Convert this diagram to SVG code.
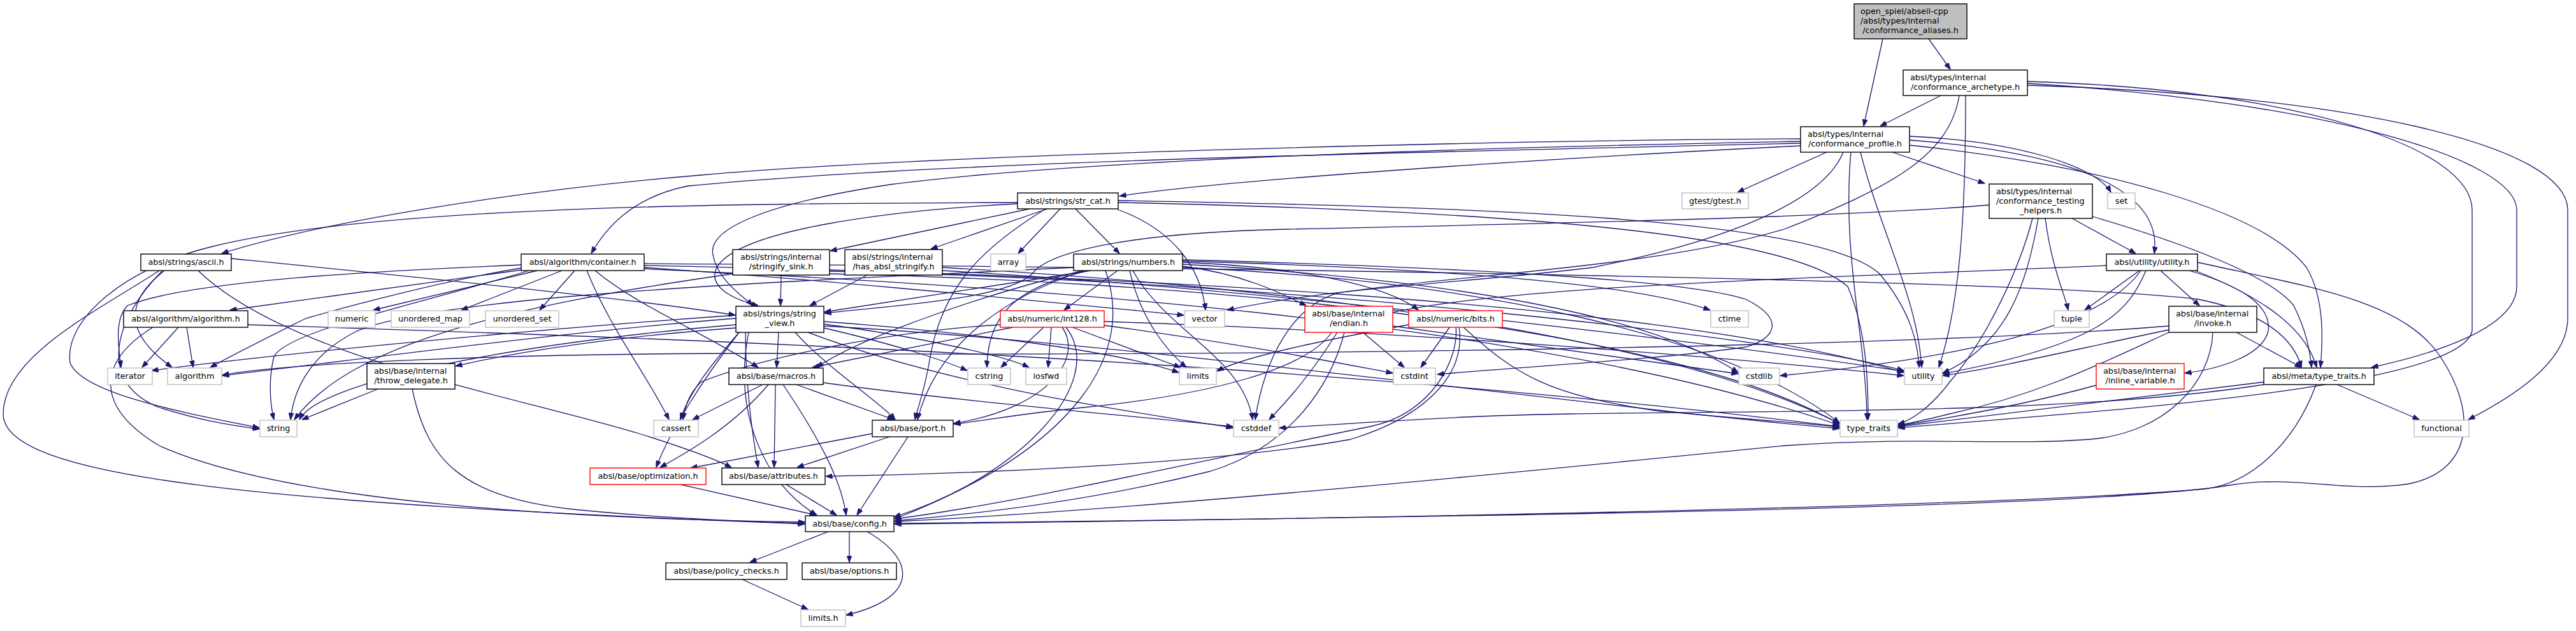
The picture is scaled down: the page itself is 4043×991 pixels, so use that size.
<svg xmlns="http://www.w3.org/2000/svg" width="4043" height="991" viewBox="0 0 4043 991">
<style>
.n rect{fill:#fff;stroke:#000;stroke-width:1.4}
.g rect{stroke:#bfbfbf}
.r rect{stroke:#ff0000}
.rt rect{fill:#bfbfbf}
text{font-family:"DejaVu Sans",sans-serif;font-size:12.8px;fill:#000}
.c{text-anchor:middle}
#edges path{fill:none;stroke:#191970;stroke-width:1.3;marker-end:url(#a)}
</style>
<defs><marker id="a" markerWidth="11" markerHeight="8" refX="10.5" refY="4" orient="auto" markerUnits="userSpaceOnUse"><path d="M0,0 L11,4 L0,8 z" fill="#191970" stroke="#191970" stroke-width="0.8"/></marker></defs>
<rect width="4043" height="991" fill="#fff"/>
<g id="edges">
<path d="M2955,61 L2925,198"/>
<path d="M3027,61 L3061,109"/>
<path d="M3046,150 L2951,198"/>
<path d="M3075,150 C3060,240 2980,290 2800,360 C2600,420 2300,430 2100,460 C2030,480 1985,560 1970,659"/>
<path d="M3085,150 C3085,350 3075,480 3043,577"/>
<path d="M3182,128 C3600,140 3880,230 3880,330 L3880,520 C3860,610 3300,645 2979,672"/>
<path d="M3182,131 C3650,160 3950,250 3950,330 L3950,450 C3950,520 3800,560 3722,577"/>
<path d="M3182,134 C3700,150 4030,230 4030,330 L4030,500 C4030,570 3940,625 3874,659"/>
<path d="M2867,239 L2727,302"/>
<path d="M2893,239 C2860,320 2700,380 2500,420 C2300,445 2100,450 1926,487"/>
<path d="M2920,239 C2950,360 3010,470 3016,577"/>
<path d="M2905,239 C2890,400 2930,540 2930,659"/>
<path d="M2997,214 C3170,222 3290,262 3313,302"/>
<path d="M2970,239 L3115,288"/>
<path d="M2997,220 C3260,240 3395,300 3381,398"/>
<path d="M2997,228 C3300,260 3550,330 3620,420 C3650,470 3645,540 3642,577"/>
<path d="M2826,229 C2400,250 1900,285 1757,308"/>
<path d="M2826,222 C2300,232 1700,250 1396,290 C1200,320 1110,360 1119,400 C1125,440 1170,468 1181,480"/>
<path d="M2826,218 C2400,220 1500,240 1100,275 C800,300 500,350 348,398"/>
<path d="M2826,225 C2200,240 1500,252 1080,292 C990,310 950,360 928,398"/>
<path d="M3252,343 L3352,398"/>
<path d="M3210,343 C3220,420 3240,460 3246,487"/>
<path d="M3190,343 C3170,420 3120,530 3060,600 C3030,640 3000,660 2979,666"/>
<path d="M3199,343 C3180,450 3150,540 3049,586"/>
<path d="M3284,340 C3420,380 3560,430 3600,480 C3620,520 3625,550 3628,577"/>
<path d="M3122,322 C2900,340 2500,350 2020,360 C1800,365 1650,390 1620,430 C1580,470 1400,480 1294,492"/>
<path d="M3358,425 L3272,487"/>
<path d="M3391,425 L3452,480"/>
<path d="M3445,425 C3560,470 3620,520 3636,577"/>
<path d="M3436,425 C3520,450 3565,480 3560,520 C3550,560 3480,580 3429,586"/>
<path d="M3449,412 C3620,450 3770,470 3830,560 C3890,650 3880,740 3780,760 C3680,775 3600,745 3500,762 C3300,795 2500,810 1404,822"/>
<path d="M3368,425 C3340,490 3300,540 3049,587"/>
<path d="M3360,425 C3300,510 3100,560 2794,590"/>
<path d="M3306,417 C2800,440 2200,450 2100,520 C2050,600 2010,640 1992,659"/>
<path d="M3510,522 L3612,577"/>
<path d="M3404,518 C3250,550 3150,575 3049,590"/>
<path d="M3404,522 C3300,570 3200,620 3060,650 C3020,660 2995,665 2979,668"/>
<path d="M3404,512 C3000,545 2000,560 1200,555 C800,555 450,570 349,589"/>
<path d="M3473,522 C3470,600 3400,680 3280,690 C3150,700 3000,685 2800,700 C2400,740 1800,800 1404,819"/>
<path d="M3290,605 C3200,630 3100,650 2979,669"/>
<path d="M3668,604 L3797,659"/>
<path d="M3553,600 C3300,630 3100,655 2979,670"/>
<path d="M3553,604 C3200,660 2600,640 2300,655 C2150,662 2050,670 2008,672"/>
<path d="M3635,604 C3600,700 3530,760 3460,768 C3200,790 2500,810 1404,823"/>
<path d="M1616,328 L1303,394"/>
<path d="M1644,328 L1461,391"/>
<path d="M1664,328 L1598,398"/>
<path d="M1688,328 L1757,398"/>
<path d="M1754,329 C1840,360 1885,420 1892,487"/>
<path d="M1597,320 C1400,330 1160,360 1125,420 C1110,450 1150,470 1190,480"/>
<path d="M1641,328 C1540,390 1480,450 1460,560 C1450,620 1440,640 1436,659"/>
<path d="M1597,318 C1200,320 600,320 330,388 C200,420 100,500 110,570 C130,620 300,650 407,672"/>
<path d="M1755,318 C2300,330 2800,360 2900,450 C2930,520 2932,600 2932,659"/>
<path d="M1755,315 C2300,325 2850,340 2950,430 C3000,490 3010,540 3012,577"/>
<path d="M1754,425 L1670,487"/>
<path d="M1773,425 C1790,500 1830,550 1862,577"/>
<path d="M1778,425 C1830,520 1950,560 1966,659"/>
<path d="M1856,410 C2200,420 2550,440 2684,487"/>
<path d="M1856,408 C2300,420 2650,440 2740,470 C2800,500 2790,530 2740,545 C2600,565 2400,575 2256,588"/>
<path d="M1856,415 C2300,440 2600,500 2728,585"/>
<path d="M1856,420 C2300,440 2700,520 2887,664"/>
<path d="M1856,418 C1950,430 2010,460 2050,480"/>
<path d="M1856,412 C2050,420 2180,450 2226,487"/>
<path d="M1712,425 L1294,490"/>
<path d="M1700,425 C1550,460 1350,530 1282,577"/>
<path d="M1702,425 C1580,465 1470,540 1440,659"/>
<path d="M1708,425 C1600,450 1550,490 1549,577"/>
<path d="M1685,420 C1300,440 700,460 560,520 C480,560 460,620 456,659"/>
<path d="M1735,425 C1780,550 1700,700 1404,815"/>
<path d="M1222,522 L1219,577"/>
<path d="M1248,522 C1300,580 1380,630 1405,659"/>
<path d="M1293,515 C1400,540 1480,565 1518,582"/>
<path d="M1293,509 C1450,530 1580,560 1615,577"/>
<path d="M1293,505 C1500,520 1750,550 1850,585"/>
<path d="M1293,512 C1800,540 2500,640 2887,673"/>
<path d="M1268,522 C1500,610 1800,650 1935,672"/>
<path d="M1160,522 C1110,580 1080,620 1068,659"/>
<path d="M1155,500 C900,520 600,560 349,590"/>
<path d="M1155,495 C800,520 400,560 238,582"/>
<path d="M1155,510 C800,540 500,600 470,659"/>
<path d="M1155,515 C950,530 800,555 715,575"/>
<path d="M1170,522 C1170,600 1180,680 1190,734"/>
<path d="M1160,522 C1100,600 1050,680 1030,734"/>
<path d="M1175,522 C1150,650 1200,760 1282,809"/>
<path d="M1197,604 L1087,659"/>
<path d="M1206,604 C1150,670 1080,710 1036,734"/>
<path d="M1217,604 L1215,734"/>
<path d="M1229,604 C1280,680 1320,750 1328,809"/>
<path d="M1250,604 L1403,659"/>
<path d="M1292,601 C1500,630 1800,655 1935,670"/>
<path d="M1369,681 L1084,735"/>
<path d="M1396,686 L1251,734"/>
<path d="M1425,686 L1345,809"/>
<path d="M1234,761 L1313,809"/>
<path d="M1068,761 L1281,809"/>
<path d="M1300,835 L1177,883"/>
<path d="M1333,835 L1333,883"/>
<path d="M1361,835 C1440,880 1440,940 1328,966"/>
<path d="M1165,910 L1268,957"/>
<path d="M1638,514 L1571,577"/>
<path d="M1650,514 L1645,577"/>
<path d="M1683,514 L1853,577"/>
<path d="M1733,511 C1950,540 2100,570 2186,586"/>
<path d="M1733,505 C2200,520 2700,560 2988,590"/>
<path d="M1667,514 C1700,560 1650,640 1497,665"/>
<path d="M1673,514 C1740,600 1600,750 1403,812"/>
<path d="M1590,514 L1275,577"/>
<path d="M1570,510 C1400,520 1200,560 1100,600 C1080,620 1075,640 1072,659"/>
<path d="M2139,522 L2204,577"/>
<path d="M2090,522 C2050,580 1900,620 1700,640 C1600,650 1550,660 1497,666"/>
<path d="M2110,522 C2090,600 2030,700 1900,740 C1700,790 1500,810 1404,818"/>
<path d="M2186,512 C2400,540 2600,570 2728,587"/>
<path d="M2275,514 L2230,577"/>
<path d="M2211,510 C2100,530 1950,560 1910,583"/>
<path d="M2297,514 C2380,590 2430,620 2600,645 C2750,660 2850,665 2887,671"/>
<path d="M2285,514 C2290,560 2250,650 2150,670 C1900,720 1600,790 1404,815"/>
<path d="M2290,514 C2300,580 2250,650 2120,690 C1900,730 1500,745 1296,748"/>
<path d="M593,611 L474,659"/>
<path d="M647,611 C670,720 720,780 900,800 C1050,815 1200,820 1263,822"/>
<path d="M280,514 L223,577"/>
<path d="M293,514 L303,577"/>
<path d="M389,510 C1000,530 2000,560 2887,670"/>
<path d="M240,514 C150,570 150,640 250,700 C450,790 900,815 1263,820"/>
<path d="M363,406 C700,440 1000,470 1154,495"/>
<path d="M258,425 C200,470 190,520 270,577"/>
<path d="M255,425 C180,500 150,600 250,640 C330,665 380,670 407,674"/>
<path d="M250,425 C150,490 5,560 5,650 C5,750 400,790 1263,823"/>
<path d="M311,425 C450,560 800,620 1000,680 C1080,705 1120,720 1148,734"/>
<path d="M818,424 L361,487"/>
<path d="M843,425 L586,487"/>
<path d="M882,425 L724,487"/>
<path d="M902,425 L847,487"/>
<path d="M818,416 C600,425 300,440 200,480 C180,500 185,540 190,577"/>
<path d="M818,421 C700,440 550,480 480,500 C420,530 360,560 330,577"/>
<path d="M830,425 C650,480 450,520 430,560 C420,600 425,640 430,659"/>
<path d="M921,425 C960,520 1010,580 1050,659"/>
<path d="M934,425 C1000,480 1100,520 1190,577"/>
<path d="M1011,420 C1300,440 1600,470 1858,495"/>
<path d="M1011,422 C1600,450 2400,500 2887,668"/>
<path d="M1011,417 C1700,430 2600,470 2988,585"/>
<path d="M1011,414 C2000,420 3200,440 3450,470 C3550,490 3600,530 3612,577"/>
<path d="M1226,432 L1225,480"/>
<path d="M1302,430 C1800,440 2600,500 2887,666"/>
<path d="M1302,426 C2000,440 2800,530 2988,582"/>
<path d="M1150,430 C800,480 550,540 462,659"/>
<path d="M1361,432 L1271,480"/>
<path d="M1479,420 C2000,450 2600,520 2887,665"/>
<path d="M1479,425 C2000,455 2700,540 2988,583"/>
</g>
<g id="root" class="n rt"><rect x="2910" y="6" width="177" height="55"/><text x="2920" y="21.5">open_spiel/abseil-cpp</text><text x="2920" y="36.5">/absl/types/internal</text><text class="c" x="2998.5" y="51.5">/conformance_aliases.h</text></g>
<g id="archetype" class="n"><rect x="2987" y="110" width="195" height="40"/><text x="2998" y="126">absl/types/internal</text><text class="c" x="3084.5" y="141">/conformance_archetype.h</text></g>
<g id="profile" class="n"><rect x="2826" y="199" width="171" height="40"/><text x="2837" y="215">absl/types/internal</text><text class="c" x="2911.5" y="230">/conformance_profile.h</text></g>
<g id="gtest" class="n g"><rect x="2640" y="303" width="104" height="25"/><text class="c" x="2692" y="320">gtest/gtest.h</text></g>
<g id="set" class="n g"><rect x="3308" y="303" width="43" height="25"/><text class="c" x="3329.5" y="320">set</text></g>
<g id="helpers" class="n"><rect x="3122" y="289" width="162" height="54"/><text x="3133" y="305">absl/types/internal</text><text x="3133" y="320">/conformance_testing</text><text class="c" x="3203" y="335">_helpers.h</text></g>
<g id="str_cat" class="n"><rect x="1597" y="303" width="158" height="25"/><text class="c" x="1676" y="320">absl/strings/str_cat.h</text></g>
<g id="ascii" class="n"><rect x="221" y="399" width="142" height="26"/><text class="c" x="292" y="416">absl/strings/ascii.h</text></g>
<g id="container" class="n"><rect x="818" y="399" width="193" height="26"/><text class="c" x="914.5" y="416">absl/algorithm/container.h</text></g>
<g id="stringify_sink" class="n"><rect x="1150" y="392" width="152" height="40"/><text x="1162" y="408">absl/strings/internal</text><text class="c" x="1226" y="423">/stringify_sink.h</text></g>
<g id="has_absl_stringify" class="n"><rect x="1326" y="392" width="153" height="40"/><text x="1337" y="408">absl/strings/internal</text><text class="c" x="1402.5" y="423">/has_absl_stringify.h</text></g>
<g id="array" class="n g"><rect x="1555" y="399" width="55" height="26"/><text class="c" x="1582.5" y="416">array</text></g>
<g id="numbers" class="n"><rect x="1685" y="399" width="171" height="26"/><text class="c" x="1770.5" y="416">absl/strings/numbers.h</text></g>
<g id="utility_h" class="n"><rect x="3306" y="399" width="143" height="26"/><text class="c" x="3377.5" y="416">absl/utility/utility.h</text></g>
<g id="algorithm_h" class="n"><rect x="194" y="488" width="195" height="26"/><text class="c" x="291.5" y="505">absl/algorithm/algorithm.h</text></g>
<g id="numeric" class="n g"><rect x="515" y="488" width="74" height="26"/><text class="c" x="552" y="505">numeric</text></g>
<g id="unordered_map" class="n g"><rect x="614" y="488" width="123" height="26"/><text class="c" x="675.5" y="505">unordered_map</text></g>
<g id="unordered_set" class="n g"><rect x="762" y="488" width="115" height="26"/><text class="c" x="819.5" y="505">unordered_set</text></g>
<g id="string_view" class="n"><rect x="1155" y="481" width="138" height="41"/><text x="1166" y="497">absl/strings/string</text><text class="c" x="1224" y="512">_view.h</text></g>
<g id="int128" class="n r"><rect x="1570" y="488" width="163" height="26"/><text class="c" x="1651.5" y="505">absl/numeric/int128.h</text></g>
<g id="vector" class="n g"><rect x="1859" y="488" width="63" height="26"/><text class="c" x="1890.5" y="505">vector</text></g>
<g id="endian" class="n r"><rect x="2048" y="481" width="138" height="41"/><text x="2059" y="497">absl/base/internal</text><text class="c" x="2117" y="512">/endian.h</text></g>
<g id="bits" class="n r"><rect x="2211" y="488" width="147" height="26"/><text class="c" x="2284.5" y="505">absl/numeric/bits.h</text></g>
<g id="ctime" class="n g"><rect x="2685" y="488" width="59" height="26"/><text class="c" x="2714.5" y="505">ctime</text></g>
<g id="tuple" class="n g"><rect x="3224" y="488" width="55" height="26"/><text class="c" x="3251.5" y="505">tuple</text></g>
<g id="invoke" class="n"><rect x="3404" y="481" width="138" height="41"/><text x="3415" y="497">absl/base/internal</text><text class="c" x="3473" y="512">/invoke.h</text></g>
<g id="iterator" class="n g"><rect x="169" y="578" width="70" height="26"/><text class="c" x="204" y="595">iterator</text></g>
<g id="algorithm" class="n g"><rect x="263" y="578" width="85" height="26"/><text class="c" x="305.5" y="595">algorithm</text></g>
<g id="throw_delegate" class="n"><rect x="576" y="571" width="138" height="40"/><text x="587" y="587">absl/base/internal</text><text class="c" x="645" y="602">/throw_delegate.h</text></g>
<g id="macros" class="n"><rect x="1144" y="578" width="148" height="26"/><text class="c" x="1218" y="595">absl/base/macros.h</text></g>
<g id="cstring" class="n g"><rect x="1519" y="578" width="67" height="26"/><text class="c" x="1552.5" y="595">cstring</text></g>
<g id="iosfwd" class="n g"><rect x="1610" y="578" width="64" height="26"/><text class="c" x="1642" y="595">iosfwd</text></g>
<g id="limits" class="n g"><rect x="1851" y="578" width="58" height="26"/><text class="c" x="1880" y="595">limits</text></g>
<g id="cstdint" class="n g"><rect x="2187" y="578" width="66" height="26"/><text class="c" x="2220" y="595">cstdint</text></g>
<g id="cstdlib" class="n g"><rect x="2729" y="578" width="64" height="26"/><text class="c" x="2761" y="595">cstdlib</text></g>
<g id="utility" class="n g"><rect x="2989" y="578" width="59" height="26"/><text class="c" x="3018.5" y="595">utility</text></g>
<g id="inline_variable" class="n r"><rect x="3290" y="571" width="138" height="40"/><text x="3301" y="587">absl/base/internal</text><text class="c" x="3359" y="602">/inline_variable.h</text></g>
<g id="type_traits_h" class="n"><rect x="3553" y="578" width="173" height="26"/><text class="c" x="3639.5" y="595">absl/meta/type_traits.h</text></g>
<g id="string" class="n g"><rect x="408" y="660" width="58" height="26"/><text class="c" x="437" y="677">string</text></g>
<g id="cassert" class="n g"><rect x="1026" y="660" width="70" height="26"/><text class="c" x="1061" y="677">cassert</text></g>
<g id="port" class="n"><rect x="1369" y="660" width="127" height="26"/><text class="c" x="1432.5" y="677">absl/base/port.h</text></g>
<g id="cstddef" class="n g"><rect x="1936" y="660" width="71" height="26"/><text class="c" x="1971.5" y="677">cstddef</text></g>
<g id="type_traits" class="n g"><rect x="2888" y="660" width="90" height="26"/><text class="c" x="2933" y="677">type_traits</text></g>
<g id="functional" class="n g"><rect x="3789" y="660" width="86" height="26"/><text class="c" x="3832" y="677">functional</text></g>
<g id="optimization" class="n r"><rect x="926" y="735" width="182" height="26"/><text class="c" x="1017" y="752">absl/base/optimization.h</text></g>
<g id="attributes" class="n"><rect x="1133" y="735" width="162" height="26"/><text class="c" x="1214" y="752">absl/base/attributes.h</text></g>
<g id="config" class="n"><rect x="1264" y="810" width="139" height="25"/><text class="c" x="1333.5" y="827">absl/base/config.h</text></g>
<g id="policy_checks" class="n"><rect x="1045" y="884" width="190" height="26"/><text class="c" x="1140" y="901">absl/base/policy_checks.h</text></g>
<g id="options" class="n"><rect x="1259" y="884" width="148" height="26"/><text class="c" x="1333" y="901">absl/base/options.h</text></g>
<g id="limits_h" class="n g"><rect x="1257" y="958" width="70" height="26"/><text class="c" x="1292" y="975">limits.h</text></g>
</svg>
